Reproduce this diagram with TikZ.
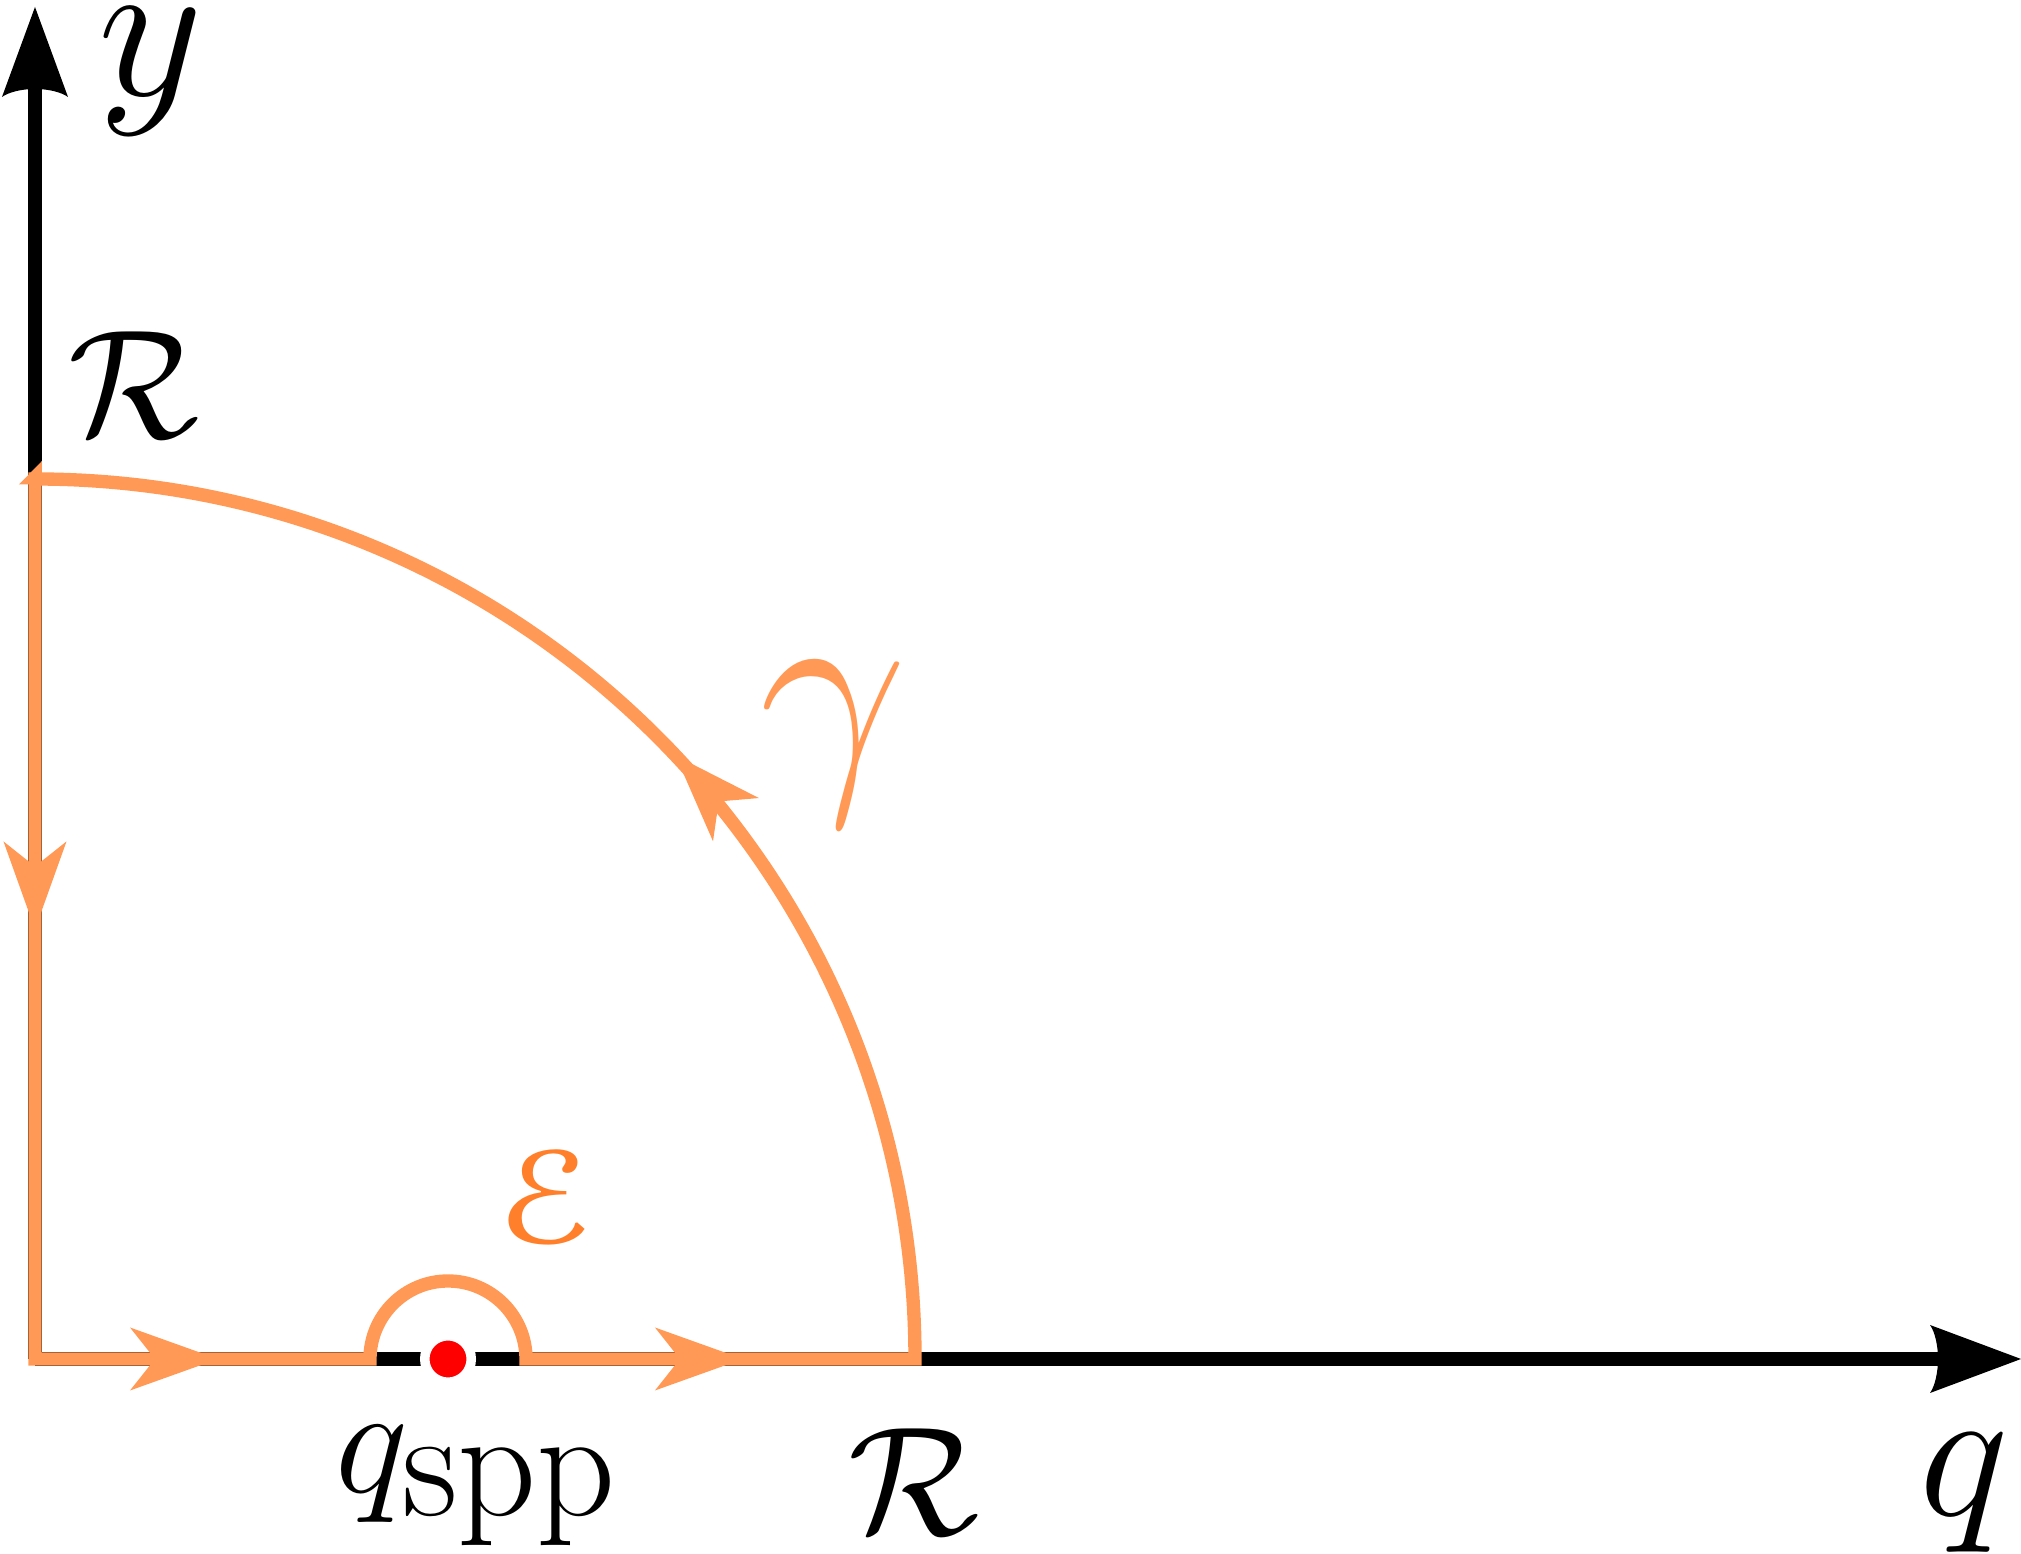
\RequirePackage{fix-cm}
\documentclass[tikz,border=0pt]{standalone}
\usepackage[mathscr]{eucal}
\usetikzlibrary{arrows.meta,decorations.markings}
\definecolor{cOrange}{RGB}{255,153,85}
\definecolor{cEps}{RGB}{255,127,42}
\begin{document}
\begin{tikzpicture}[
  axisline/.style={line width=3.8pt, draw=black},
  axishead/.style={fill=black},
  contour/.style={draw=cOrange, line width=3.8pt, line join=miter},
  lbl/.style={inner sep=0pt, outer sep=0pt},
  bigfont/.style={font=\fontsize{44}{50}\selectfont},
  oarrow/.tip={Stealth[length=8.8mm,width=6.3mm,inset=2.5mm,line width=0pt]},
]
\useasboundingbox (-0.35,-1.95) rectangle (19.86,13.59);

\coordinate (O) at (0,0);
\coordinate (Xtip) at (19.86,0);
\coordinate (Xback) at (19.05,0);
\coordinate (Ytip) at (0,13.52);
\coordinate (Yback) at (0,12.72);

% axes
\draw[axisline] (O) -- (Xback);
\draw[axisline] (O) -- (Yback);
\fill[axishead] (Xtip) -- (18.95,0.34) .. controls (19.00,0.27) and (19.03,0.13) .. (19.03,0)
  .. controls (19.03,-0.13) and (19.00,-0.27) .. (18.95,-0.34) -- cycle;
\fill[axishead] (Ytip) -- (-0.33,12.62) .. controls (-0.26,12.67) and (-0.13,12.70) .. (0,12.70)
  .. controls (0.13,12.70) and (0.26,12.67) .. (0.33,12.62) -- cycle;

% contour
\draw[contour, postaction={decorate}, decoration={markings,
    mark=at position 1.83cm with {\arrow[color=cOrange]{oarrow}},
    mark=at position 7.97cm with {\arrow[color=cOrange]{oarrow}},
    mark=at position 16.34cm with {\arrow[color=cOrange]{oarrow}},
    mark=at position 28.02cm with {\arrow[color=cOrange]{oarrow}}}]
  (O) -- (3.35,0) arc[start angle=180, end angle=0, radius=0.78]
  -- (8.8,0) arc[start angle=0, end angle=90, radius=8.8] -- cycle;
% corner of the contour at the top of the y axis
\fill[cOrange] (-0.16,8.745) -- (0.07,8.98) -- (0.07,8.745) -- cycle;

% pole
\node[circle, fill=red, draw=white, line width=0.095cm, minimum size=0.465cm, inner sep=0pt] (pole) at (4.13,0) {};

% labels
\node[lbl, font=\fontsize{58}{62}\selectfont] (ylab) at (1.16,12.875) {$y$};
\node[lbl, bigfont] (Rv) at (0.99,9.745) {$\mathcal{R}$};
\node[lbl, text=cOrange, font=\fontsize{75}{80}\selectfont] (gam) at (7.985,6.15) {$\gamma$};
\node[lbl, text=cEps, font=\fontsize{40}{44}\selectfont, xscale=1.18, yscale=0.95, transform shape] (eps) at (5.125,1.625) {$\mathscr{E}$};
\node[lbl, bigfont] (qspp) at (4.415,-1.27) {$q_{\mbox{spp}}$};
\node[lbl, bigfont] (Rh) at (8.79,-1.225) {$\mathcal{R}$};
\node[lbl, font=\fontsize{54}{58}\selectfont] (qlab) at (19.29,-1.345) {$q$};
\end{tikzpicture}
\end{document}
